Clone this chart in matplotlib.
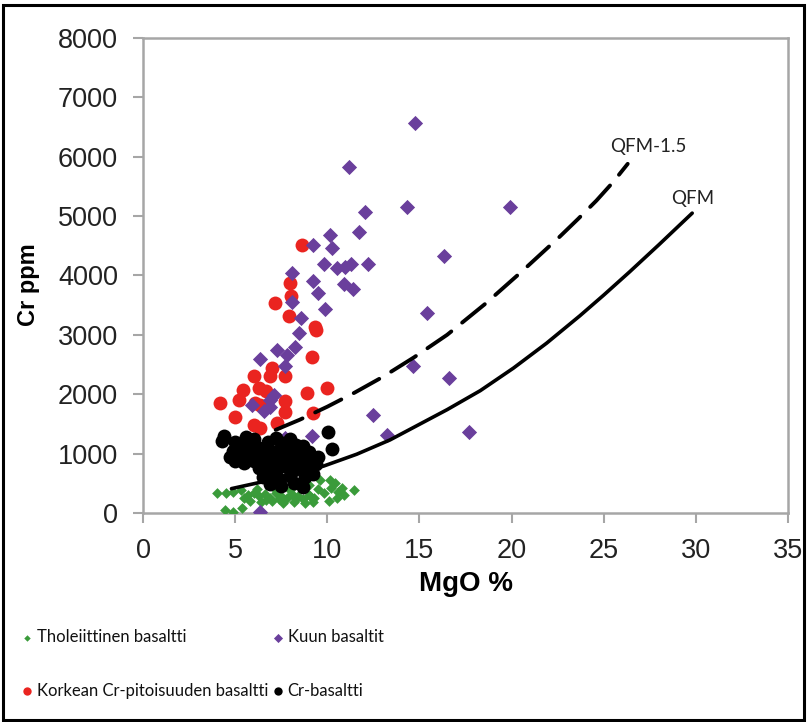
import matplotlib
matplotlib.use("Agg")
import matplotlib.pyplot as plt
from matplotlib.patches import Rectangle

# --- data (MgO %, Cr ppm) ---
thol_mgo = [4.0, 4.5, 4.9, 5.3, 4.45, 4.9, 5.35, 5.7, 6.0, 6.3, 6.6, 6.9, 7.2, 7.5, 7.8,
            8.1, 8.4, 8.7, 9.0, 9.3, 5.8, 6.4, 7.0, 7.6, 8.2, 8.8, 9.6, 10.15, 10.4, 11.45,
            10.6, 10.9, 10.5, 9.8, 10.1, 9.5, 6.2, 7.1, 8.0, 8.6, 9.0, 5.5, 6.7, 7.4, 8.3,
            9.2, 10.8, 10.2, 8.35, 9.05]
thol_cr = [330, 340, 360, 380, 50, 20, 80, 300, 340, 280, 320, 260, 340, 290, 250,
           320, 280, 230, 300, 250, 200, 180, 200, 170, 190, 170, 560, 560, 500, 390,
           360, 300, 250, 330, 200, 410, 400, 420, 390, 440, 470, 260, 220, 230, 240,
           180, 420, 420, 500, 280]

kuu_mgo = [14.75, 11.2, 12.05, 14.3, 19.9, 11.7, 10.15, 10.25, 9.2, 16.35, 9.8, 10.5,
           10.95, 11.3, 12.2, 8.1, 9.2, 10.9, 11.4, 9.5, 15.4, 8.1, 9.85, 8.6, 8.45,
           8.25, 7.25, 7.8, 6.35, 7.7, 14.65, 16.6, 6.9, 6.9, 5.9, 6.55, 7.7, 9.15,
           12.5, 13.25, 17.7, 6.35, 7.1]
kuu_cr = [6570, 5830, 5070, 5150, 5150, 4730, 4680, 4460, 4520, 4330, 4190, 4120,
          4150, 4190, 4190, 4050, 3910, 3850, 3770, 3710, 3360, 3560, 3430, 3280, 3030,
          2800, 2750, 2660, 2590, 2470, 2470, 2270, 1900, 1790, 1820, 1710, 1260, 1300,
          1650, 1320, 1360, 20, 1980]

korkea_mgo = [8.65, 7.95, 8.05, 7.15, 7.9, 9.35, 9.4, 9.15, 7.0, 6.0, 7.7, 6.9, 5.4,
              6.3, 6.65, 4.2, 5.2, 6.1, 6.35, 7.7, 7.7, 8.9, 10.0, 5.0, 6.05, 6.35,
              7.25, 9.25]
korkea_cr = [4520, 3880, 3650, 3540, 3320, 3140, 3090, 2630, 2450, 2300, 2300, 2300,
             2070, 2100, 2050, 1860, 1900, 1850, 1820, 1880, 1700, 2020, 2100, 1620,
             1480, 1430, 1510, 1680]

crbas_mgo = [4.4, 10.05, 4.3, 5.5, 6.8, 7.6, 8.3, 8.7, 5.0, 6.0, 7.2, 8.0, 5.6,
             4.9, 5.3, 5.9, 6.3, 6.9, 7.4, 7.9, 8.4, 9.0, 10.25,
             4.7, 5.2, 5.7, 6.2, 6.6, 7.1, 7.6, 8.1, 8.6, 9.5,
             5.0, 5.5, 6.0, 6.5, 7.0, 7.5, 8.0, 8.5, 9.1, 9.4,
             6.3, 6.8, 7.3, 7.8, 8.2, 8.9,
             6.5, 6.9, 7.4, 8.0, 8.8, 9.2,
             6.9, 7.5, 8.2, 8.7]
crbas_cr = [1300, 1370, 1220, 1150, 1200, 1180, 1150, 1120, 1200, 1240, 1260, 1250, 1280,
            1050, 1080, 1050, 1100, 1050, 1060, 1050, 1020, 1030, 1070,
            950, 960, 940, 980, 930, 960, 940, 950, 930, 950,
            880, 850, 870, 840, 860, 830, 860, 840, 860, 820,
            760, 720, 750, 770, 720, 740,
            600, 640, 580, 620, 610, 660,
            480, 450, 500, 440]

# buffer curves
qfm_mgo = [4.8, 7.0, 9.8, 11.6, 13.4, 16.5, 18.3, 20.1, 21.9, 23.7, 25.0, 26.4, 28.0, 29.8]
qfm_cr = [410, 560, 790, 990, 1230, 1740, 2060, 2440, 2860, 3320, 3670, 4060, 4520, 5050]
qfm15_mgo = [7.2, 8.5, 10.0, 11.5, 13.0, 14.7, 16.5, 18.6, 20.6, 22.6, 23.6, 24.6,
             25.5, 26.3]
qfm15_cr = [1400, 1570, 1790, 2030, 2290, 2620, 3000, 3530, 4080, 4650, 4950, 5260,
            5570, 5880]

x_ticks = [0, 5, 10, 15, 20, 25, 30, 35]
y_ticks = [0, 1000, 2000, 3000, 4000, 5000, 6000, 7000, 8000]

GREEN = "#3a9b3a"
PURPLE = "#6a3f9c"
RED = "#ea2420"
SPINE = "#a6a6a6"

plt.rcParams["font.family"] = ["Liberation Sans", "DejaVu Sans"]

fig = plt.figure(figsize=(8.07, 7.22), dpi=100)
ax = fig.add_axes([0.1772, 0.2895, 0.7993, 0.6579])

h_thol = ax.scatter(thol_mgo, thol_cr, marker="D", s=30, color=GREEN, lw=0, zorder=3,
                    label="Tholeiittinen basaltti")
h_kor = ax.scatter(korkea_mgo, korkea_cr, marker="o", s=100, color=RED, lw=0, zorder=4,
                   label="Korkean Cr-pitoisuuden basaltti")
h_kuu = ax.scatter(kuu_mgo, kuu_cr, marker="D", s=60, color=PURPLE, lw=0, zorder=5,
                   label="Kuun basaltit")
h_cr = ax.scatter(crbas_mgo, crbas_cr, marker="o", s=100, color="black", lw=0, zorder=6,
                  label="Cr-basaltti")

ax.plot(qfm_mgo, qfm_cr, color="black", lw=2.6, zorder=7, solid_capstyle="round")
ax.plot(qfm15_mgo, qfm15_cr, color="black", lw=2.8, zorder=7,
        linestyle=(0, (7.5, 3.6)), dash_capstyle="round")

lab_font = ["Lato", "DejaVu Sans"]
ax.text(27.4, 6164, "QFM-1.5", ha="center", va="center", fontsize=13.5,
        color="#222222", family=lab_font)
ax.text(29.85, 5300, "QFM", ha="center", va="center", fontsize=13.5,
        color="#222222", family=lab_font)

ax.set_xlim(0, 35)
ax.set_ylim(0, 8000)
ax.set_xticks(x_ticks)
ax.set_yticks(y_ticks)
ax.tick_params(direction="out", length=7, width=1.5, color=SPINE, labelsize=19.5,
               labelcolor="#222222", pad=11)
for sp in ax.spines.values():
    sp.set_color(SPINE)
    sp.set_linewidth(1.8)

ax.set_xlabel("MgO %", fontsize=20, fontweight="bold")
ax.set_ylabel("Cr ppm", fontsize=17, fontweight="bold")
ax.xaxis.set_label_coords(0.5, -0.122)
ax.yaxis.set_label_coords(-0.16, 0.48)

leg = fig.legend(handles=[h_thol, h_kor, h_kuu, h_cr], ncol=2, frameon=False,
                 loc="upper left", bbox_to_anchor=(0.020, 0.138),
                 bbox_transform=fig.transFigure,
                 prop={"family": lab_font, "size": 12},
                 handlelength=0.5, handletextpad=0.35, columnspacing=0.3,
                 labelspacing=2.25, scatterpoints=1, markerscale=0.6,
                 borderaxespad=0)
for t in leg.get_texts():
    t.set_color("#111111")

fig.add_artist(Rectangle((0.004, 0.003), 0.992, 0.99, transform=fig.transFigure,
                         fill=False, edgecolor="black", lw=2.2))

fig.savefig("out.png", dpi=100)
